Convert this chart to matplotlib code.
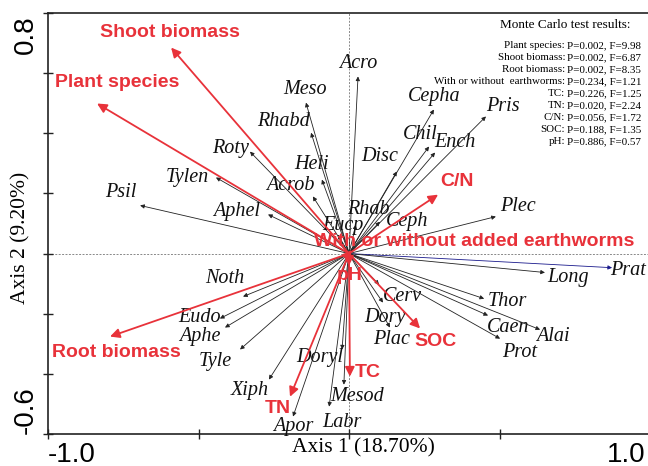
"""
CCA-style ordination biplot: soil fauna taxa (black arrows) vs
environmental / treatment variables (red arrows), Monte Carlo results inset.
"""
import matplotlib
matplotlib.use("Agg")
import matplotlib.pyplot as plt

# species scores (axis 1, axis 2)
species = ["Psil", "Tylen", "Roty", "Aphel", "Acrob", "Heli", "Rhabd", "Meso",
           "Acro", "Disc", "Cepha", "Chil", "Ench", "Pris", "Rhab", "Eucp",
           "Ceph", "Plec", "Prat", "Long", "Thor", "Caen", "Alai", "Prot",
           "Cerv", "Dory", "Plac", "Doryl", "Mesod", "Labr", "Apor", "Xiph",
           "Tyle", "Aphe", "Eudo", "Noth"]
sp_ax1 = [-0.694, -0.442, -0.329, -0.269, -0.120, -0.090, -0.126, -0.143,
          0.030, 0.159, 0.282, 0.266, 0.286, 0.455, 0.023, -0.037,
          0.103, 0.488, 0.874, 0.651, 0.449, 0.462, 0.635, 0.502,
          0.100, 0.113, 0.136, -0.023, -0.017, -0.066, -0.186, -0.266,
          -0.362, -0.412, -0.429, -0.352]
sp_ax2 = [0.160, 0.253, 0.339, 0.130, 0.190, 0.246, 0.402, 0.502,
          0.589, 0.273, 0.479, 0.356, 0.336, 0.456, 0.096, 0.063,
          0.106, 0.123, -0.047, -0.063, -0.150, -0.206, -0.253, -0.283,
          -0.103, -0.163, -0.246, -0.319, -0.436, -0.509, -0.542, -0.419,
          -0.319, -0.246, -0.216, -0.143]

# environmental / treatment variable scores
env = ["Shoot biomass", "Plant species", "Root biomass", "C/N", "SOC", "TC",
       "TN", "pH", "With or without added earthworms"]
env_ax1 = [-0.591, -0.837, -0.794, 0.296, 0.236, 0.003, -0.196, 0.0, 0.010]
env_ax2 = [0.685, 0.499, -0.276, 0.196, -0.249, -0.409, -0.476, -0.040, 0.012]

# Monte Carlo permutation test results
mc_vars = ["Plant species", "Shoot biomass", "Root biomass",
           "With or without  earthworms", "TC", "TN", "C/N", "SOC", "pH"]
mc_p = ["0.002", "0.002", "0.002", "0.234", "0.226", "0.020", "0.056", "0.188", "0.886"]
mc_f = ["9.98", "6.87", "8.35", "1.21", "1.25", "2.24", "1.72", "1.35", "0.57"]

# label placement (layout only)
sp_label_pos = {
    "Psil": (-0.757, 0.203), "Tylen": (-0.538, 0.253), "Roty": (-0.395, 0.349),
    "Aphel": (-0.372, 0.140), "Acrob": (-0.196, 0.226), "Heli": (-0.123, 0.296),
    "Rhabd": (-0.219, 0.439), "Meso": (-0.146, 0.545), "Acro": (0.030, 0.632),
    "Disc": (0.103, 0.323), "Cepha": (0.282, 0.522), "Chil": (0.236, 0.396),
    "Ench": (0.352, 0.369), "Pris": (0.512, 0.489), "Rhab": (0.063, 0.146),
    "Eucp": (-0.020, 0.093), "Ceph": (0.193, 0.106), "Plec": (0.561, 0.156),
    "Prat": (0.927, -0.057), "Long": (0.728, -0.080), "Thor": (0.525, -0.160),
    "Caen": (0.528, -0.246), "Alai": (0.678, -0.276), "Prot": (0.568, -0.329),
    "Cerv": (0.176, -0.143), "Dory": (0.120, -0.213), "Plac": (0.143, -0.286),
    "Doryl": (-0.096, -0.346), "Mesod": (0.027, -0.476), "Labr": (-0.023, -0.562),
    "Apor": (-0.186, -0.575), "Xiph": (-0.329, -0.456), "Tyle": (-0.445, -0.359),
    "Aphe": (-0.495, -0.276), "Eudo": (-0.495, -0.213), "Noth": (-0.412, -0.083),
}
env_label_pos = {
    "Shoot biomass": (-0.595, 0.735), "Plant species": (-0.771, 0.569),
    "Root biomass": (-0.774, -0.329), "C/N": (0.359, 0.239),
    "SOC": (0.286, -0.293), "TC": (0.063, -0.396), "TN": (-0.236, -0.515),
    "pH": (0.003, -0.073), "With or without added earthworms": (0.415, 0.040),
}

RED = "#e8323a"
SERIF = "Liberation Serif"
SANS = "Liberation Sans"

fig = plt.figure(figsize=(6.48, 4.66), dpi=100)
ax = fig.add_axes([48 / 648, 1 - 434 / 466, 602 / 648, 421 / 466])
ax.set_xlim(-1.0, 1.0)
ax.set_ylim(-0.6, 0.8)

ax.axhline(0, color="#888888", ls=(0, (2, 1.5)), lw=0.7, zorder=0)
ax.axvline(0, color="#888888", ls=(0, (2, 1.5)), lw=0.7, zorder=0)

for name, x, y in zip(species, sp_ax1, sp_ax2):
    col = "#1a1a8c" if name == "Prat" else "#222222"
    ax.annotate("", xy=(x, y), xytext=(0, 0),
                arrowprops=dict(arrowstyle="-|>", lw=0.6, color=col,
                                mutation_scale=6, shrinkA=0, shrinkB=0))
    lx, ly = sp_label_pos[name]
    ax.text(lx, ly, name, fontsize=14.5, family=SERIF, style="italic",
            ha="center", va="center", color="#111111")

for name, x, y in zip(env, env_ax1, env_ax2):
    ax.annotate("", xy=(x, y), xytext=(0, 0),
                arrowprops=dict(arrowstyle="-|>", lw=1.3, color=RED,
                                mutation_scale=14, shrinkA=0, shrinkB=0))
    lx, ly = env_label_pos[name]
    ax.text(lx, ly, name, fontsize=14, family=SANS, weight="bold",
            ha="center", va="center", color=RED)

ax.set_xticks([-1.0, -0.5, 0.0, 0.5, 1.0])
ax.set_yticks([-0.6, -0.4, -0.2, 0.0, 0.2, 0.4, 0.6, 0.8])
ax.set_xticklabels([])
ax.set_yticklabels([])
ax.tick_params(direction="inout", length=7, width=1, color="#222222")
for s in ax.spines.values():
    s.set_linewidth(1.2)
    s.set_color("#222222")

# end-of-axis tick labels
fig.text(48 / 648, 1 - 455 / 466, "-1.0", fontsize=20, family=SANS, ha="left", va="center")
fig.text(626 / 648, 1 - 455 / 466, "1.0", fontsize=20, family=SANS, ha="center", va="center")
fig.text(26 / 648, 1 - 35 / 466, "0.8", fontsize=20, family=SANS, rotation=90,
         ha="center", va="center")
fig.text(26 / 648, 1 - 410 / 466, "-0.6", fontsize=20, family=SANS, rotation=90,
         ha="center", va="center")

fig.text(363 / 648, 1 - 448 / 466, "Axis 1 (18.70%)", fontsize=15.5, family=SERIF,
         ha="center", va="center")
fig.text(21 / 648, 1 - 238 / 466, "Axis 2 (9.20%)", fontsize=15.5, family=SERIF,
         rotation=90, ha="center", va="center")

# Monte Carlo inset
fig.text(565 / 648, 1 - 25 / 466, "Monte Carlo test results:", fontsize=9.5,
         family=SERIF, ha="center", va="center")
for i, (v, p, f) in enumerate(zip(mc_vars, mc_p, mc_f)):
    yy = 1 - (46 + 12 * i) / 466
    fig.text(565 / 648, yy, f"{v}:", fontsize=7.9, family=SERIF, ha="right", va="center")
    fig.text(567 / 648, yy, f"P={p}, F={f}", fontsize=7.9, family=SERIF,
             ha="left", va="center")

fig.savefig("out.png", dpi=100)
